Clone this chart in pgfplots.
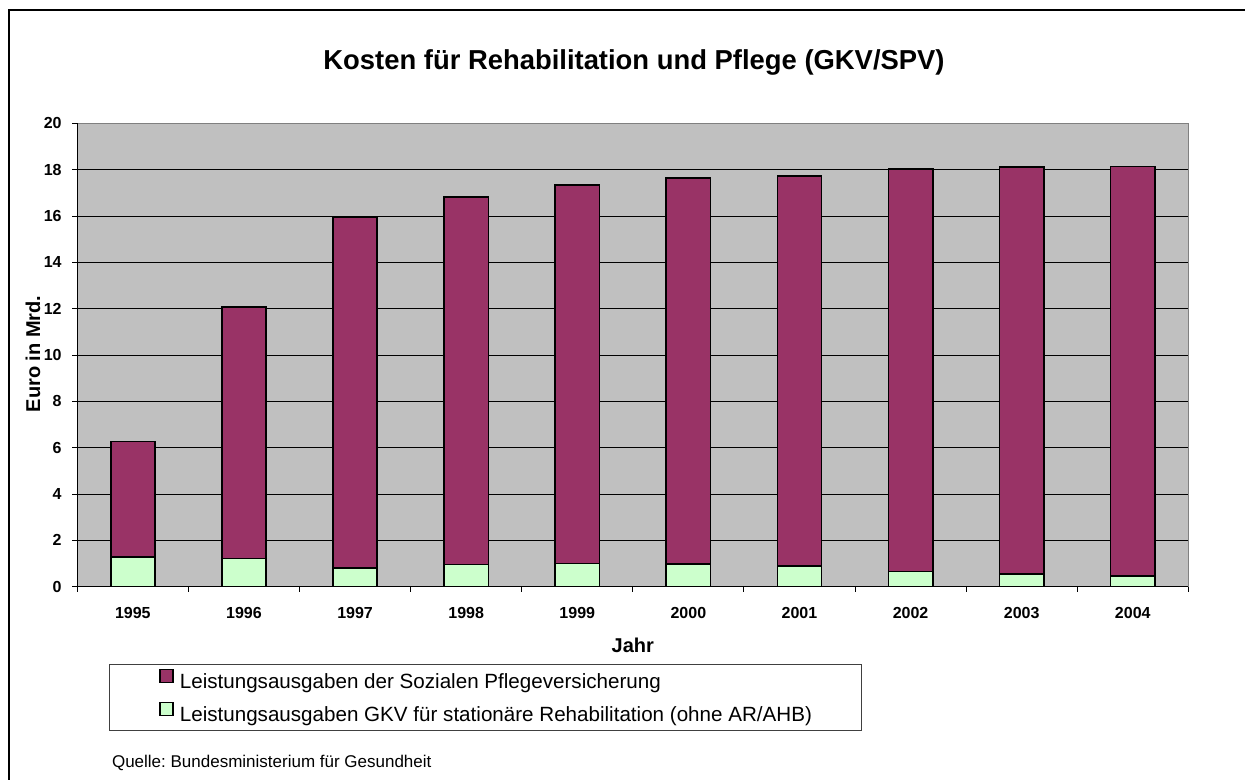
\documentclass[border=0pt]{standalone}
\usepackage{pgfplots}
\pgfplotsset{compat=1.18}
\usepackage{fontspec}
\setmainfont{Liberation Sans}
\frenchspacing
\definecolor{pv}{HTML}{993366}
\definecolor{gkv}{HTML}{CCFFCC}
\definecolor{bg}{HTML}{C0C0C0}
\definecolor{frame}{HTML}{808080}
\begin{document}
\begin{tikzpicture}
\useasboundingbox (0,0) rectangle (622.5pt,-390pt);
\fill[white] (0,0) rectangle (622.5pt,-390pt);
\draw[line width=1pt] (4.5pt,-400pt) -- (4.5pt,-5pt) -- (630pt,-5pt);
\node[anchor=base, font=\bfseries\fontsize{13.7}{16}\selectfont] at (317pt,-34.9pt) {Kosten für Rehabilitation und Pflege (GKV/SPV)};
\node[anchor=base, rotate=90, font=\bfseries\fontsize{10}{12}\selectfont] at (20.1pt,-177pt) {Euro in Mrd.};
\node[anchor=base, font=\bfseries\fontsize{10}{12}\selectfont] at (316.4pt,-326pt) {Jahr};
\node[anchor=base west, font=\fontsize{8.5}{10}\selectfont] at (52.5pt,-383.5pt) {Quelle: Bundesministerium für Gesundheit};
\begin{axis}[
  at={(38.65pt,-293.35pt)}, anchor=south west,
  scale only axis, width=555.5pt, height=231.65pt,
  ybar stacked, bar width=22.15pt,
  xmin=-0.5, xmax=9.5, ymin=0, ymax=20,
  ytick={0,2,...,20},
  xtick={-0.5,0.5,...,9.5}, xticklabels={},
  extra x ticks={0,1,2,3,4,5,6,7,8,9},
  extra x tick labels={1995,1996,1997,1998,1999,2000,2001,2002,2003,2004},
  extra x tick style={major tick length=0pt},
  tick align=outside, xtick pos=bottom, ytick pos=left,
  major tick length=2.5pt,
  tick style={black, line width=0.5pt},
  ymajorgrids, grid style={black, line width=0.5pt},
  axis background/.style={fill=bg},
  axis line style={frame, line width=0.6pt},
  /pgf/number format/assume math mode=true,
  yticklabel style={font=\bfseries\fontsize{8}{9}\selectfont, xshift=-1.8pt},
  xticklabel style={font=\bfseries\fontsize{8}{9}\selectfont, yshift=-7pt},
  after end axis/.code={\draw[black, line width=0.6pt] (rel axis cs:0,1) -- (rel axis cs:0,0) -- (rel axis cs:1,0);},
  reverse legend,
  legend cell align=left,
  legend image code/.code={\draw[#1, line width=0.6pt] (0pt,0.2pt) rectangle (6.5pt,6.7pt); \path (9.5pt,0pt);},
  legend style={at={(0.0285,-0.1668)}, anchor=north west, draw=black!75, line width=0.5pt,
    font=\fontsize{10.3}{12}\selectfont, inner xsep=25pt, inner ysep=2.3pt, row sep=4.5pt,
    nodes={inner sep=0pt, text height=7.5pt, text depth=2.5pt}},
]
\addplot[fill=gkv, draw=black, line width=0.8pt] coordinates {(0,1.29) (1,1.22) (2,0.82) (3,0.96) (4,1.01) (5,0.98) (6,0.89) (7,0.66) (8,0.56) (9,0.46)};
\addlegendentry{Leistungsausgaben GKV für stationäre Rehabilitation (ohne AR/AHB)}
\addplot[fill=pv, draw=black, line width=0.8pt] coordinates {(0,4.97) (1,10.86) (2,15.11) (3,15.86) (4,16.34) (5,16.66) (6,16.84) (7,17.38) (8,17.55) (9,17.68)};
\addlegendentry{Leistungsausgaben der Sozialen Pflegeversicherung}
\end{axis}
\end{tikzpicture}
\end{document}
